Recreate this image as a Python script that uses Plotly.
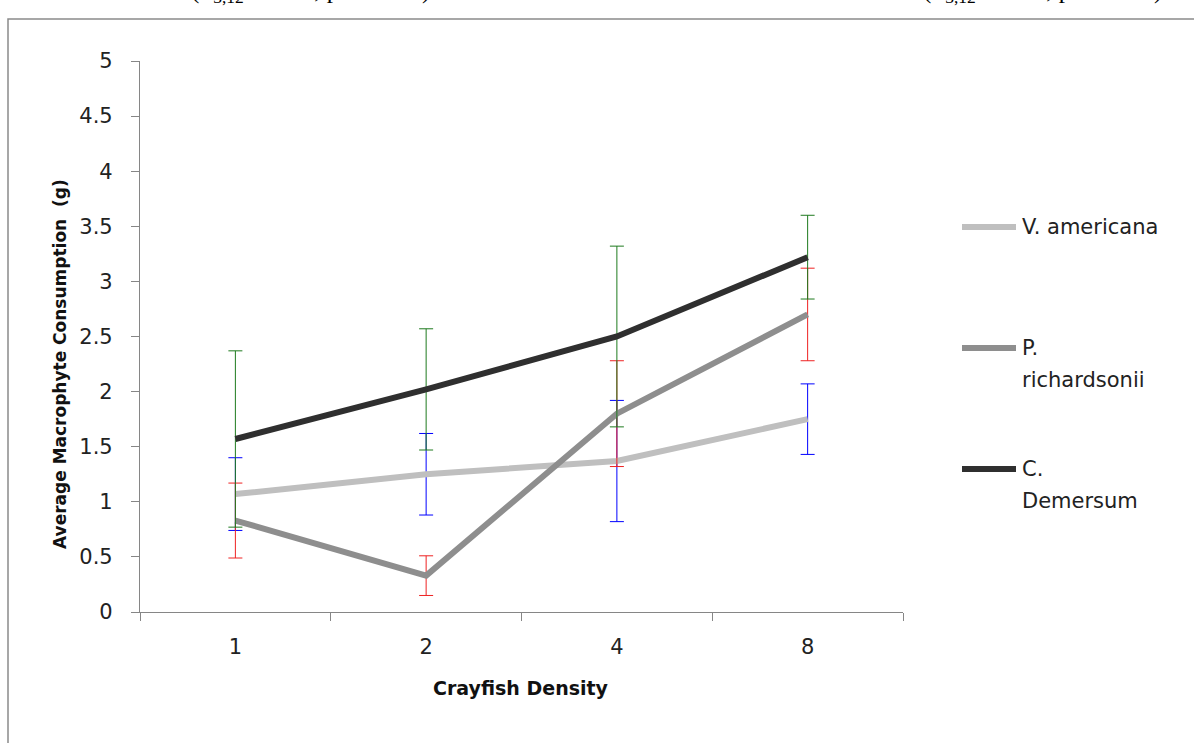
import plotly.graph_objects as go

densities = ["1", "2", "4", "8"]
v_americana = [1.07, 1.25, 1.37, 1.75]
v_americana_err = [0.33, 0.37, 0.55, 0.32]
p_richardsonii = [0.83, 0.33, 1.80, 2.70]
p_richardsonii_err = [0.34, 0.18, 0.48, 0.42]
c_demersum = [1.57, 2.02, 2.50, 3.22]
c_demersum_err = [0.80, 0.55, 0.82, 0.38]

series_names = ["V. americana", "P. richardsonii", "C. Demersum"]
legend_lines = [["V. americana"], ["P.", "richardsonii"], ["C.", "Demersum"]]
line_colors = ["#BFBFBF", "#8E8E8E", "#2F2F2F"]
err_colors = ["#0000FF", "#EE2222", "#1E7A1E"]

FONT = "DejaVu Sans"
fig = go.Figure()
for name, vals, errs, lc, ec in zip(series_names,
                                    [v_americana, p_richardsonii, c_demersum],
                                    [v_americana_err, p_richardsonii_err, c_demersum_err],
                                    line_colors, err_colors):
    fig.add_trace(go.Scatter(
        x=densities, y=vals, mode="lines", name=name,
        line=dict(color=lc, width=6),
        error_y=dict(type="data", array=errs, visible=True, color=ec, thickness=1, width=7),
        showlegend=False,
    ))

W, H = 1194, 743
L, R, T, B = 140, 291, 61, 131
pw, ph = W - L - R, H - T - B

def px(x):
    return (x - L) / pw

def py(y):
    return (H - B - y) / ph

shapes = [
    dict(type="rect", xref="paper", yref="paper", x0=px(8), x1=px(1300), y0=py(19), y1=py(800),
         line=dict(color="#8A8A8A", width=1.5), fillcolor="rgba(0,0,0,0)", layer="below"),
]
annotations = []
leg_y = [227, 348, 469]
for lines, lc, y in zip(legend_lines, line_colors, leg_y):
    shapes.append(dict(type="line", xref="paper", yref="paper", x0=px(962), x1=px(1016),
                       y0=py(y), y1=py(y), line=dict(color=lc, width=6)))
    for i, t in enumerate(lines):
        annotations.append(dict(text=t, xref="paper", yref="paper", x=px(1020), y=py(y + 32 * i),
                                xanchor="left", yanchor="middle", showarrow=False,
                                font=dict(family=FONT, size=21, color="#222222")))

annotations.append(dict(text="<b>Average Macrophyte Consumption  (g)</b>", xref="paper", yref="paper",
                        x=px(60), y=py(364), textangle=-90, showarrow=False,
                        xanchor="center", yanchor="middle",
                        font=dict(family=FONT, size=17, color="#111111")))
annotations.append(dict(text="<b>Crayfish Density</b>", xref="paper", yref="paper",
                        x=px(521), y=py(688), showarrow=False, xanchor="center", yanchor="middle",
                        font=dict(family=FONT, size=19, color="#111111")))
for cx in [310, 1042]:
    annotations.append(dict(text="(F<sub>3,12</sub> = 4.05, p = 0.033)", xref="paper", yref="paper",
                            x=px(cx), y=py(9), showarrow=False, xanchor="center", yanchor="bottom",
                            font=dict(family="Liberation Serif", size=25, color="#000000")))

fig.update_layout(
    width=W, height=H,
    margin=dict(l=L, r=R, t=T, b=B),
    paper_bgcolor="white", plot_bgcolor="white",
    font=dict(family=FONT, size=17, color="#222222"),
    shapes=shapes, annotations=annotations,
    showlegend=False,
)
fig.update_xaxes(type="category", range=[-0.5, 3.5], showgrid=False, zeroline=False,
                 showline=True, linecolor="#868686", linewidth=1.2,
                 ticks="outside", tickson="boundaries", ticklen=8, tickcolor="#868686",
                 ticklabelstandoff=16,
                 tickfont=dict(family=FONT, size=21, color="#222222"))
fig.update_yaxes(range=[0, 5], dtick=0.5, showgrid=False, zeroline=False,
                 showline=True, linecolor="#868686", linewidth=1.2,
                 ticks="outside", ticklen=8, tickcolor="#868686",
                 ticklabelstandoff=14,
                 tickfont=dict(family=FONT, size=21, color="#222222"))

fig.write_html("out.html", config={"displayModeBar": False},
               post_script="document.body.style.margin='0px';")
